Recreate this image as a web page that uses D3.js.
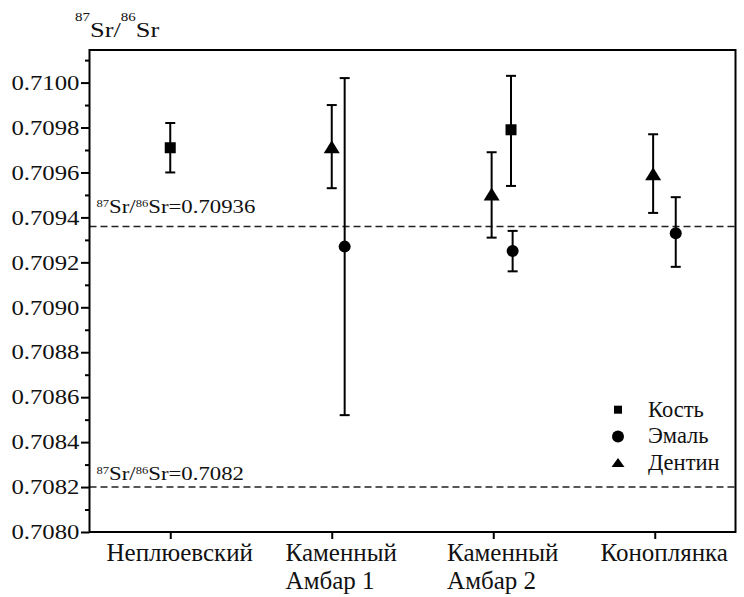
<!DOCTYPE html>
<html><head><meta charset="utf-8">
<script src="https://cdn.jsdelivr.net/npm/d3@7"></script>
<style>
body{margin:0;background:#fff}
svg{display:block}
svg text, svg tspan{font-family:"Liberation Serif","Times New Roman",serif !important;fill:#111}
</style>
</head><body><svg id="c" width="744" height="597"></svg>
<script>
// ---- data ----
const categories = [["Неплюевский"], ["Каменный", "Амбар 1"], ["Каменный", "Амбар 2"], ["Коноплянка"]];
const categoryPos = [1, 2, 3, 4];

const boneX = [1.00, 3.11];
const boneValue = [0.70971, 0.70979];
const boneLow = [0.70960, 0.70954];
const boneHigh = [0.70982, 0.71003];

const enamelX = [2.08, 3.12, 4.13];
const enamelValue = [0.70927, 0.70925, 0.70933];
const enamelLow = [0.70852, 0.70916, 0.70918];
const enamelHigh = [0.71002, 0.70934, 0.70949];

const dentinX = [2.00, 2.99, 3.99];
const dentinValue = [0.70971, 0.70950, 0.70959];
const dentinLow = [0.70953, 0.70931, 0.70942];
const dentinHigh = [0.70990, 0.70969, 0.70977];

const yMajorTicks = [0.7080, 0.7082, 0.7084, 0.7086, 0.7088, 0.7090, 0.7092, 0.7094, 0.7096, 0.7098, 0.7100];
const yMinorTicks = [0.7081, 0.7083, 0.7085, 0.7087, 0.7089, 0.7091, 0.7093, 0.7095, 0.7097, 0.7099, 0.7101];
const refValues = [0.70936, 0.7082];
const refLabels = ["0.70936", "0.7082"];
const legendLabels = ["Кость", "Эмаль", "Дентин"];

// ---- layout ----
const FONT = '"Liberation Serif","Times New Roman",serif';
const L = 89.5, R = 735.5, T = 50, B = 532;
const svg = d3.select("#c");
svg.append("rect").attr("width", 744).attr("height", 597).attr("fill", "#fff");

const x = d3.scaleLinear().domain([0.5, 4.5]).range([L, R]);
const y = d3.scaleLinear().domain([0.7080, 0.710145]).range([B, T]);

const series = [
  {name: legendLabels[0], shape: "square", xs: boneX, v: boneValue, lo: boneLow, hi: boneHigh},
  {name: legendLabels[1], shape: "circle", xs: enamelX, v: enamelValue, lo: enamelLow, hi: enamelHigh},
  {name: legendLabels[2], shape: "triangle", xs: dentinX, v: dentinValue, lo: dentinLow, hi: dentinHigh}
];

// reference lines
refValues.forEach((rv, i) => {
  svg.append("line")
    .attr("x1", L).attr("x2", R).attr("y1", y(rv)).attr("y2", y(rv))
    .attr("stroke", "#222").attr("stroke-width", 1.5).attr("stroke-dasharray", "7,4");
  const off = i === 0 ? 13.5 : 7.5;
  const g = svg.append("g").attr("transform", `translate(96.5,${y(rv) - off}) scale(1.2,1)`);
  const t = g.append("text").style("font-family", FONT);
  t.append("tspan").text("87").attr("font-size", 10.5).attr("dy", -5.5);
  t.append("tspan").text("Sr/").attr("font-size", 19).attr("dy", 5.5);
  t.append("tspan").text("86").attr("font-size", 10.5).attr("dy", -5.5);
  t.append("tspan").text("Sr=" + refLabels[i]).attr("font-size", 19).attr("dy", 5.5);
});

// markers
function marker(g, shape, cx, cy, legend) {
  if (shape === "square") {
    const s = legend ? 8 : 11;
    g.append("rect").attr("x", cx - s / 2).attr("y", cy - s / 2).attr("width", s).attr("height", s).attr("fill", "#000");
  } else if (shape === "circle") {
    g.append("circle").attr("cx", cx).attr("cy", cy).attr("r", 6).attr("fill", "#000");
  } else {
    const w = legend ? 6.5 : 8, up = legend ? 5 : 7.5, dn = legend ? 4 : 5.5;
    g.append("path").attr("d", `M${cx},${cy - up}L${cx + w},${cy + dn}L${cx - w},${cy + dn}Z`).attr("fill", "#000");
  }
}

const pg = svg.append("g");
series.forEach(s => {
  s.xs.forEach((xv, i) => {
    const cx = x(xv);
    const eg = pg.append("g").attr("stroke", "#000").attr("stroke-width", 2);
    eg.append("line").attr("x1", cx).attr("x2", cx).attr("y1", y(s.lo[i])).attr("y2", y(s.hi[i]));
    eg.append("line").attr("x1", cx - 5).attr("x2", cx + 5).attr("y1", y(s.lo[i])).attr("y2", y(s.lo[i]));
    eg.append("line").attr("x1", cx - 5).attr("x2", cx + 5).attr("y1", y(s.hi[i])).attr("y2", y(s.hi[i]));
    marker(pg, s.shape, cx, y(s.v[i]), false);
  });
});

// frame
svg.append("rect").attr("x", L).attr("y", T).attr("width", R - L).attr("height", B - T)
  .attr("fill", "none").attr("stroke", "#000").attr("stroke-width", 2);

// y axis
const sx = 1.18;
const gyMin = svg.append("g").attr("transform", `translate(${L},0)`)
  .call(d3.axisLeft(y).tickValues(yMinorTicks).tickSize(4.5).tickFormat(""));
const gy = svg.append("g").attr("transform", `translate(${L},0)`)
  .call(d3.axisLeft(y).tickValues(yMajorTicks).tickSize(8.5).tickFormat(d3.format(".4f")));
[gyMin, gy].forEach(g => {
  g.attr("font-family", FONT);
  g.select(".domain").remove();
  g.selectAll(".tick line").attr("stroke", "#000").attr("stroke-width", 2);
});
gy.selectAll(".tick text")
  .attr("font-size", 21).attr("fill", "#111").style("font-family", FONT)
  .attr("x", -10 / sx).attr("transform", `scale(${sx},1)`);

// x axis
const gx = svg.append("g").attr("transform", `translate(0,${B})`)
  .call(d3.axisBottom(x).tickValues(categoryPos).tickSize(7).tickFormat(""));
gx.attr("font-family", FONT);
gx.select(".domain").remove();
gx.selectAll(".tick line").attr("stroke", "#000").attr("stroke-width", 2);
gx.selectAll(".tick text").remove();
gx.selectAll(".tick").each(function(d, i) {
  const t = d3.select(this).append("text").style("font-family", FONT)
    .attr("font-size", 25).attr("fill", "#111").attr("text-anchor", "start");
  categories[i].forEach((line, j) => {
    t.append("tspan").text(line).attr("x", 0).attr("y", 28.5 + j * 28);
  });
  const w = t.node().getBBox().width;
  t.selectAll("tspan").attr("x", -w / 2 + 9);
});

// y title
{
  const g = svg.append("g").attr("transform", "translate(75,37) scale(1.2,1)");
  const t = g.append("text").style("font-family", FONT);
  t.append("tspan").text("87").attr("font-size", 12.5).attr("dy", -16);
  t.append("tspan").text("Sr/").attr("font-size", 22).attr("dy", 16);
  t.append("tspan").text("86").attr("font-size", 12.5).attr("dy", -16);
  t.append("tspan").text("Sr").attr("font-size", 22).attr("dy", 16);
}

// legend
series.forEach((s, i) => {
  const by = 416.7 + i * 26.7;
  marker(svg, s.shape, 618, by - 7, true);
  svg.append("text").style("font-family", FONT).attr("x", 648).attr("y", by).attr("font-size", 22.5).text(s.name);
});
</script>
</body></html>
